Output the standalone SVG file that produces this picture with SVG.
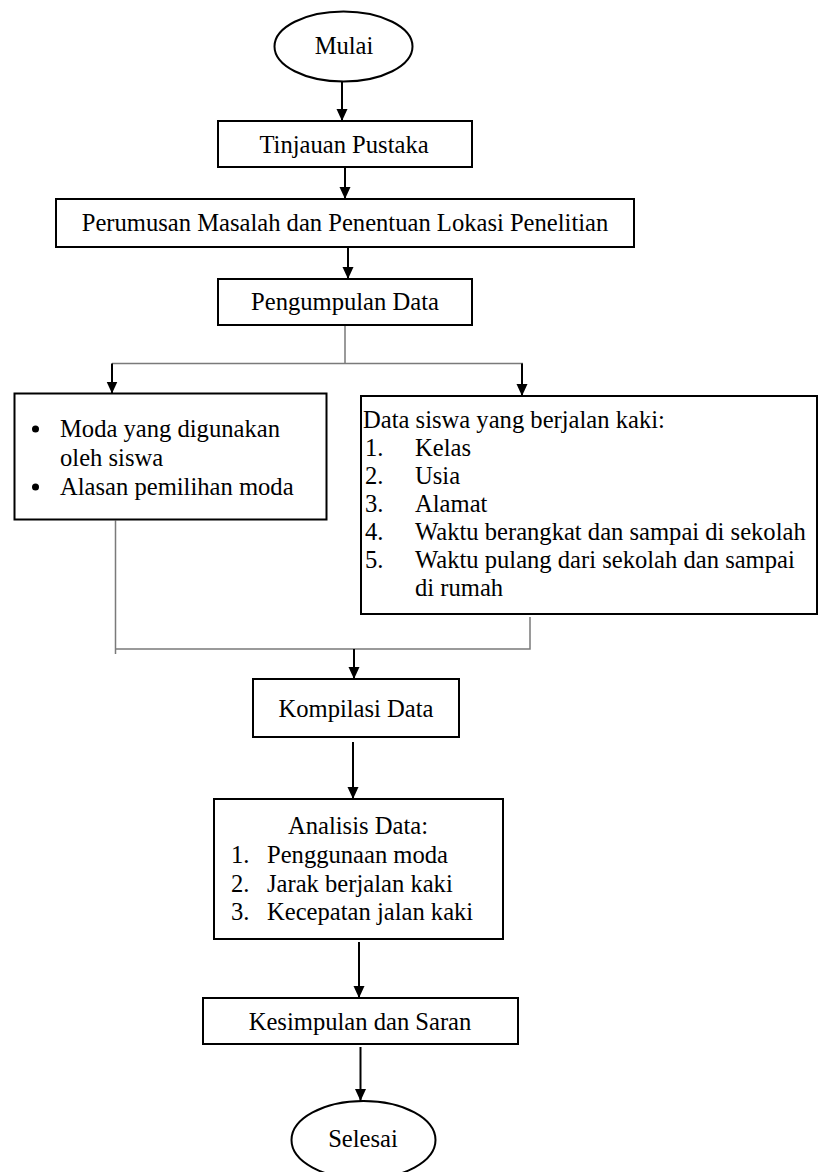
<svg xmlns="http://www.w3.org/2000/svg" width="819" height="1172" viewBox="0 0 819 1172">
<style>
.box{fill:#fff;stroke:#000;stroke-width:2}
.t{font-family:"Liberation Serif","Times New Roman",serif;font-size:24.6px;fill:#000}
.c{text-anchor:middle}
.arr{fill:none;stroke:#000;stroke-width:2;marker-end:url(#ah)}
.gl{fill:none;stroke:#7a7a7a;stroke-width:1.5}
</style>
<defs>
<marker id="ah" markerUnits="userSpaceOnUse" markerWidth="12" markerHeight="12" viewBox="0 0 12 12" refX="12" refY="6" orient="auto">
<path d="M0,0.5 L12,6 L0,11.5 z" fill="#000"/>
</marker>
</defs>
<rect width="819" height="1172" fill="#fff"/>
<g id="connectors">
<path class="arr" d="M342,81 V121"/>
<path class="arr" d="M345,167 V199"/>
<path class="arr" d="M348,247 V279"/>
<path class="gl" d="M345,325 V363.5 M112,363.5 H523"/>
<path class="arr" d="M112,363.5 V393.5"/>
<path class="arr" d="M522,363.5 V396"/>
<path class="gl" d="M115.5,520.5 V654 M530,617 V649 H115.5"/>
<path class="arr" d="M354,649 V679"/>
<path class="arr" d="M353,742 V799"/>
<path class="arr" d="M359,942 V998"/>
<path class="arr" d="M360.5,1047 V1101"/>
</g>
<g id="mulai">
<ellipse class="box" cx="343.5" cy="46.5" rx="69" ry="35"/>
<text class="t c" x="344" y="54">Mulai</text>
</g>
<g id="tinjauan">
<rect class="box" x="218" y="121" width="254" height="46"/>
<text class="t c" x="344" y="153">Tinjauan Pustaka</text>
</g>
<g id="perumusan">
<rect class="box" x="56" y="199" width="578" height="48"/>
<text class="t c" x="345" y="231">Perumusan Masalah dan Penentuan Lokasi Penelitian</text>
</g>
<g id="pengumpulan">
<rect class="box" x="218" y="279" width="254" height="46"/>
<text class="t c" x="345" y="310">Pengumpulan Data</text>
</g>
<g id="moda">
<rect class="box" x="14.5" y="393.5" width="312" height="126"/>
<circle cx="35.5" cy="429" r="3.5" fill="#000"/>
<circle cx="35.5" cy="487" r="3.5" fill="#000"/>
<text class="t" x="60" y="437">Moda yang digunakan</text>
<text class="t" x="60" y="466">oleh siswa</text>
<text class="t" x="60" y="495">Alasan pemilihan moda</text>
</g>
<g id="data-siswa">
<rect class="box" x="361" y="396" width="456" height="218"/>
<text class="t" x="363" y="428">Data siswa yang berjalan kaki:</text>
<text class="t" x="365" y="456">1.</text><text class="t" x="415" y="456">Kelas</text>
<text class="t" x="365" y="484">2.</text><text class="t" x="415" y="484">Usia</text>
<text class="t" x="365" y="512">3.</text><text class="t" x="415" y="512">Alamat</text>
<text class="t" x="365" y="540">4.</text><text class="t" x="415" y="540">Waktu berangkat dan sampai di sekolah</text>
<text class="t" x="365" y="568">5.</text><text class="t" x="415" y="568">Waktu pulang dari sekolah dan sampai</text>
<text class="t" x="415" y="596">di rumah</text>
</g>
<g id="kompilasi">
<rect class="box" x="253" y="679" width="206" height="58"/>
<text class="t c" x="356" y="717">Kompilasi Data</text>
</g>
<g id="analisis">
<rect class="box" x="214" y="799" width="289" height="140"/>
<text class="t c" x="358" y="834">Analisis Data:</text>
<text class="t" x="231" y="863">1.</text><text class="t" x="267" y="863">Penggunaan moda</text>
<text class="t" x="231" y="892">2.</text><text class="t" x="267" y="892">Jarak berjalan kaki</text>
<text class="t" x="231" y="920">3.</text><text class="t" x="267" y="920">Kecepatan jalan kaki</text>
</g>
<g id="kesimpulan">
<rect class="box" x="203" y="998" width="315" height="46"/>
<text class="t c" x="360" y="1030">Kesimpulan dan Saran</text>
</g>
<g id="selesai">
<ellipse class="box" cx="363.5" cy="1140" rx="72" ry="39"/>
<text class="t c" x="363" y="1147">Selesai</text>
</g>
</svg>
